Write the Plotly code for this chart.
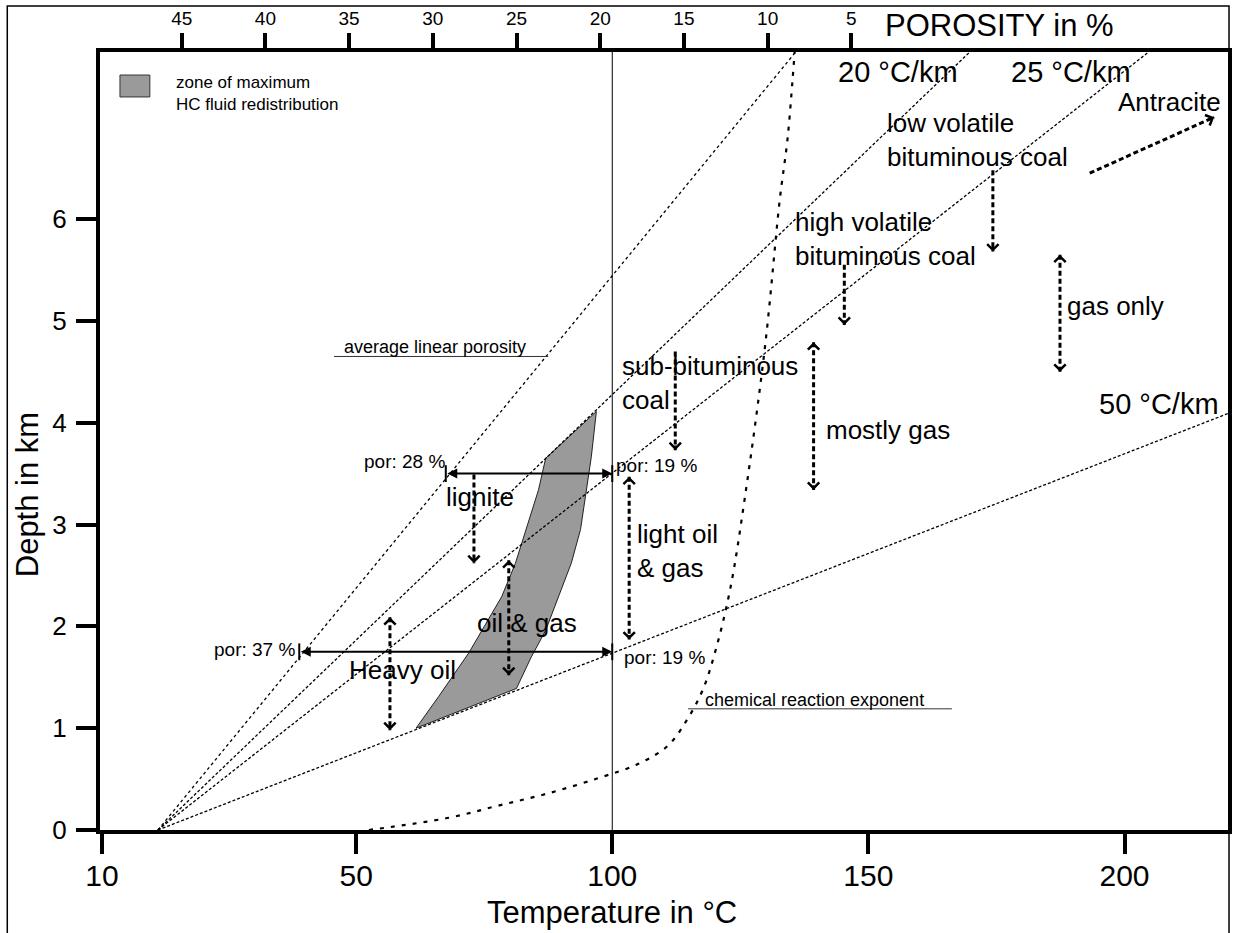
import plotly.graph_objects as go

FONT = "Liberation Sans, Arial, Helvetica, sans-serif"

# ---------------- data ----------------
# axis definitions
temp_tick_vals = [0.4, 50, 100, 150, 200]
temp_tick_text = ["10", "50", "100", "150", "200"]
depth_tick_vals = [0, 1, 2, 3, 4, 5, 6]
por_tick_vals = [45, 40, 35, 30, 25, 20, 15, 10, 5]
temp_range = [0, 220.2]
depth_range = [0, 7.64]
por_range = [49.88, -17.5]

# geothermal gradient lines (start at surface, end at frame)
geo_T_start = [11.3, 11.3, 11.3, 11.3]
geo_d_start = [0, 0, 0, 0]
geo_T_end = [135.8, 169.8, 204.7, 220.2]
geo_d_end = [7.64, 7.64, 7.64, 4.09]
geo_dash = ["dot", "3px,2px", "3px,2px", "3px,2px"]

# chemical reaction exponent curve
chem_T = [52.5, 68.1, 77.8, 87.5, 97.3, 105.1, 110.9, 114.8, 117.7, 120.2,
          123.0, 125.9, 129.8, 132.7, 134.2, 135.2, 135.6]
chem_d = [0.0, 0.12, 0.24, 0.36, 0.51, 0.65, 0.83, 1.10, 1.38, 1.77,
          2.36, 3.27, 4.74, 6.19, 6.78, 7.37, 7.64]

# zone of maximum HC fluid redistribution
zone_T = [96.9, 87.0, 85.6, 82.7, 81.1, 78.4, 75.3, 72.0, 66.1, 61.7,
          81.3, 84.2, 87.0, 90.1, 92.0, 93.8, 94.9, 95.9, 96.9]
zone_d = [4.11, 3.65, 3.34, 2.88, 2.62, 2.29, 2.03, 1.74, 1.31, 1.00,
          1.39, 1.70, 1.96, 2.36, 2.62, 2.95, 3.34, 3.66, 4.11]

# vertical dashed arrows
varrow_T = [73.0, 79.8, 56.6, 103.3, 112.3, 139.3, 145.3, 174.3, 187.4]
varrow_top = [3.49, 2.65, 2.09, 3.47, 4.70, 4.79, 5.55, 6.48, 5.65]
varrow_bot = [2.62, 1.52, 0.98, 1.87, 3.73, 3.34, 4.96, 5.68, 4.50]
varrow_both = [False, True, True, True, False, True, False, False, True]

# antracite arrow
antra_T = [193.2, 217.5]
antra_d = [6.45, 7.00]

# porosity double arrows
hbar_d = [3.50, 1.75]
hbar_T_left = [67.5, 38.9]
hbar_T_right = [100.0, 100.0]

# text labels
label_text = ["lignite", "oil & gas", "Heavy oil", "light oil<br>& gas",
              "sub-bituminous<br>coal", "mostly gas",
              "high volatile<br>bituminous coal",
              "low volatile<br>bituminous coal", "gas only"]
label_T = [67.1, 73.3, 48.2, 104.5, 101.6, 141.4, 135.2, 153.3, 188.3]
label_d = [3.27, 2.03, 1.57, 2.74, 4.39, 3.93, 5.80, 6.78, 5.15]

grad_text = ["20 °C/km", "25 °C/km", "50 °C/km"]
grad_T = [143.6, 177.4, 194.6]
grad_d = [7.44, 7.44, 4.18]

por_text = ["por: 28 %", "por: 19 %", "por: 37 %", "por: 19 %"]
por_T = [67.7, 100.4, 38.5, 101.9]
por_d = [3.62, 3.58, 1.77, 1.69]
por_anchor = ["right", "left", "right", "left"]

note_text = ["average linear porosity", "chemical reaction exponent"]
note_T = [47.3, 117.7]
note_d = [4.74, 1.28]
note_line_T0 = [45.7, 114.8]
note_line_T1 = [87.5, 166.3]
note_line_d = [4.65, 1.19]

# ---------------- figure ----------------
fig = go.Figure()

# zone polygon
fig.add_trace(go.Scatter(x=zone_T, y=zone_d, mode="lines", fill="toself",
                         fillcolor="#9a9a9a", line=dict(color="#222", width=1),
                         hoverinfo="skip"))

# T = 100 reference line
fig.add_trace(go.Scatter(x=[100, 100], y=depth_range, mode="lines",
                         line=dict(color="black", width=1), hoverinfo="skip"))

# geotherms
for i in range(len(geo_T_end)):
    fig.add_trace(go.Scatter(x=[geo_T_start[i], geo_T_end[i]],
                             y=[geo_d_start[i], geo_d_end[i]], mode="lines",
                             line=dict(color="black", width=1.3, dash=geo_dash[i]),
                             hoverinfo="skip"))

# chemical reaction exponent
fig.add_trace(go.Scatter(x=chem_T, y=chem_d, mode="lines", line_shape="spline",
                         line=dict(color="black", width=2.2, dash="4px,7px"),
                         hoverinfo="skip"))

annotations = []

# vertical dashed arrows
HEAD = 0.06
for i in range(len(varrow_T)):
    fig.add_trace(go.Scatter(x=[varrow_T[i], varrow_T[i]],
                             y=[varrow_top[i], varrow_bot[i]], mode="lines",
                             line=dict(color="black", width=3, dash="5px,3px"),
                             hoverinfo="skip"))
    annotations.append(dict(x=varrow_T[i], y=varrow_bot[i], ax=varrow_T[i],
                            ay=varrow_bot[i] + HEAD, axref="x", ayref="y",
                            xref="x", yref="y", text="", showarrow=True,
                            arrowhead=4, arrowsize=1.0, arrowwidth=2.2,
                            arrowcolor="black", standoff=0))
    if varrow_both[i]:
        annotations.append(dict(x=varrow_T[i], y=varrow_top[i], ax=varrow_T[i],
                                ay=varrow_top[i] - HEAD, axref="x", ayref="y",
                                xref="x", yref="y", text="", showarrow=True,
                                arrowhead=4, arrowsize=1.0, arrowwidth=2.2,
                                arrowcolor="black", standoff=0))

# antracite arrow
fig.add_trace(go.Scatter(x=antra_T, y=antra_d, mode="lines",
                         line=dict(color="black", width=3, dash="5px,3px"),
                         hoverinfo="skip"))
annotations.append(dict(x=antra_T[1], y=antra_d[1],
                        ax=antra_T[1] - 0.06 * (antra_T[1] - antra_T[0]),
                        ay=antra_d[1] - 0.06 * (antra_d[1] - antra_d[0]),
                        axref="x", ayref="y", xref="x", yref="y", text="",
                        showarrow=True, arrowhead=4, arrowsize=1.0,
                        arrowwidth=2.2, arrowcolor="black", standoff=0))

# horizontal porosity arrows
for i in range(len(hbar_d)):
    annotations.append(dict(x=hbar_T_right[i], y=hbar_d[i], ax=hbar_T_left[i],
                            ay=hbar_d[i], axref="x", ayref="y", xref="x",
                            yref="y", text="", showarrow=True, arrowhead=2,
                            arrowside="end+start", arrowsize=1.0,
                            arrowwidth=2, arrowcolor="black", standoff=0))
    fig.add_trace(go.Scatter(x=[hbar_T_left[i], hbar_T_right[i]],
                             y=[hbar_d[i], hbar_d[i]], mode="markers",
                             marker=dict(symbol="line-ns", size=12,
                                         line=dict(color="black", width=2)),
                             hoverinfo="skip"))

# invisible trace for porosity axis
fig.add_trace(go.Scatter(x=[por_tick_vals[0]], y=[None], xaxis="x2", yaxis="y",
                         mode="markers", hoverinfo="skip"))

# labels
for i in range(len(label_text)):
    annotations.append(dict(x=label_T[i], y=label_d[i], xref="x", yref="y",
                            text=label_text[i], showarrow=False,
                            xanchor="left", yanchor="middle", align="left",
                            font=dict(size=26, color="black", family=FONT)))
annotations.append(dict(x=219.3, y=7.15, xref="x", yref="y", text="Antracite",
                        showarrow=False, xanchor="right", yanchor="middle",
                        font=dict(size=26, color="black", family=FONT)))
for i in range(len(grad_text)):
    annotations.append(dict(x=grad_T[i], y=grad_d[i], xref="x", yref="y",
                            text=grad_text[i], showarrow=False,
                            xanchor="left", yanchor="middle",
                            font=dict(size=29, color="black", family=FONT)))
for i in range(len(por_text)):
    annotations.append(dict(x=por_T[i], y=por_d[i], xref="x", yref="y",
                            text=por_text[i], showarrow=False,
                            xanchor=por_anchor[i], yanchor="middle",
                            font=dict(size=19, color="black", family=FONT)))
shapes = []
for i in range(len(note_text)):
    annotations.append(dict(x=note_T[i], y=note_d[i], xref="x", yref="y",
                            text=note_text[i], showarrow=False,
                            xanchor="left", yanchor="middle",
                            font=dict(size=18, color="black", family=FONT)))
    shapes.append(dict(type="line", xref="x", yref="y", x0=note_line_T0[i],
                       x1=note_line_T1[i], y0=note_line_d[i], y1=note_line_d[i],
                       line=dict(color="#333", width=1)))

# legend box + text (paper coords)
shapes.append(dict(type="rect", xref="paper", yref="paper", x0=0.0177,
                   x1=0.0442, y0=0.9422, y1=0.9704, fillcolor="#9a9a9a",
                   line=dict(color="#333", width=1)))
annotations.append(dict(x=0.0654, y=0.947, xref="paper", yref="paper",
                        text="zone of maximum<br>HC fluid redistribution",
                        showarrow=False, xanchor="left", yanchor="middle",
                        align="left",
                        font=dict(size=17, color="black", family=FONT)))

# outer frame
shapes.append(dict(type="rect", xref="paper", yref="paper", x0=-0.0822,
                   x1=1.0009, y0=-0.2, y1=1.0591,
                   line=dict(color="black", width=1.5), layer="below"))

# axis titles
annotations.append(dict(x=1.0, y=1.0347, xref="paper", yref="paper",
                        text="POROSITY in %", showarrow=False, xanchor="center",
                        yanchor="middle",
                        font=dict(size=31, color="black", family=FONT),
                        xshift=-229))
annotations.append(dict(x=0.454, y=-0.1054, xref="paper", yref="paper",
                        text="Temperature in °C", showarrow=False,
                        xanchor="center", yanchor="middle",
                        font=dict(size=31, color="black", family=FONT)))
annotations.append(dict(x=-0.0636, y=0.4306, xref="paper", yref="paper",
                        text="Depth in km", showarrow=False, textangle=-90,
                        xanchor="center", yanchor="middle",
                        font=dict(size=31, color="black", family=FONT)))

axis_common = dict(showgrid=False, zeroline=False, ticks="outside",
                   tickcolor="black", showline=True, linecolor="black",
                   linewidth=4, tickwidth=4)

fig.update_layout(
    width=1234, height=933,
    margin=dict(l=100, r=2, t=52, b=103),
    paper_bgcolor="white", plot_bgcolor="white",
    showlegend=False,
    font=dict(family=FONT, color="black"),
    xaxis=dict(range=temp_range, tickvals=temp_tick_vals,
               ticktext=temp_tick_text, ticklen=20,
               tickfont=dict(size=30, family=FONT), ticklabelstandoff=-4,
               **axis_common),
    yaxis=dict(range=depth_range, tickvals=depth_tick_vals, ticklen=20,
               tickfont=dict(size=26, family=FONT), mirror=True,
               ticklabelstandoff=4, **axis_common),
    xaxis2=dict(range=por_range, overlaying="x", side="top",
                tickvals=por_tick_vals, ticklen=15,
                tickfont=dict(size=19, family=FONT), **axis_common),
    annotations=annotations,
    shapes=shapes,
)

fig.write_html("out.html")
